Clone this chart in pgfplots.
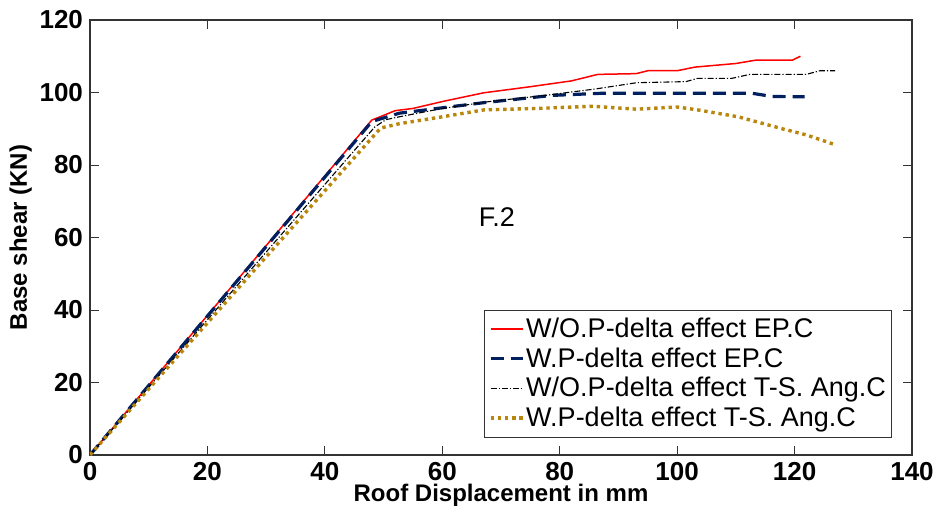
\documentclass[border=0pt]{standalone}
\usepackage{pgfplots}
\pgfplotsset{compat=1.18}
\usepackage{fontspec}
\setmainfont{Liberation Sans}
\definecolor{navy}{RGB}{0,32,96}
\definecolor{gold}{RGB}{184,134,11}
\begin{document}
\begin{tikzpicture}
\useasboundingbox (-45pt,-30pt) rectangle (423.5pt,227.5pt);
\begin{axis}[
  at={(0,0)}, anchor=origin,
  width=411pt, height=217.5pt, scale only axis,
  xmin=0, xmax=140, ymin=0, ymax=120,
  xtick={0,20,...,140}, ytick={0,20,...,120},
  tick align=inside, major tick length=4.5pt,
  axis line style={black!80, line width=0.6pt},
  every tick/.style={black!80, line width=0.5pt},
  /pgf/number format/assume math mode=true,
  ticklabel style={font=\bfseries\fontsize{13}{13}\selectfont},
  xlabel={Roof Displacement in mm},
  ylabel={Base shear (KN)},
  label style={font=\bfseries\fontsize{12}{12}\selectfont},
  xlabel style={yshift=5pt},
  ylabel style={yshift=-3pt},
  legend style={at={(0.976,0.04)}, anchor=south east, draw=black!80,
    font=\fontsize{13.5}{16}\selectfont, row sep=-0.5pt,
    inner xsep=2pt, inner ysep=2pt,
    nodes={inner xsep=1pt}},
  legend cell align=left,
  legend image code/.code={\draw[#1] (0pt,0pt) -- (16pt,0pt);},
]
\addplot[red, line width=0.75pt] coordinates {
(0,0) (48,92.4) (52,95.0) (55,95.6) (60,97.5) (67,99.9) (75,101.6) (82,103.2) (86.5,105.0) (93,105.2) (95,106) (100,106) (103,107) (110,108) (113.3,108.9) (119.6,108.9) (121,110)};
\addlegendentry{W/O.P-delta effect EP.C}
\addplot[navy, line width=1.6pt, dash pattern=on 6.5pt off 3.5pt] coordinates {
(0,0) (48,92) (52.7,94.3) (59.6,95.7) (67.1,97.2) (78.7,99.2) (87.3,99.8) (112.7,99.8) (116.2,98.9) (121.7,98.8)};
\addlegendentry{W.P-delta effect EP.C}
\addplot[black, line width=0.55pt, dash pattern=on 3pt off 1pt on 0.6pt off 1pt] coordinates {
(0,0) (48.5,90.5) (50.4,92.5) (52.7,93.3) (60,95.6) (68,97.5) (77.5,99.2) (86.2,101) (93.1,102.7) (101.5,103) (103.5,103.9) (109.3,103.9) (112.4,105) (122,105) (124.3,106) (126.9,106)};
\addlegendentry{W/O.P-delta effect T-S. Ang.C}
\addplot[gold, line width=1.7pt, dash pattern=on 1.7pt off 1.9pt] coordinates {
(0,0) (49.5,90.2) (52.7,91.4) (60,93.3) (67.1,95.2) (76,95.6) (85.6,96.2) (93.1,95.4) (100,96.0) (103.5,95.2) (110.4,93.3) (117.9,90) (122,88.3) (126.9,85.6)};
\addlegendentry{W.P-delta effect T-S. Ang.C}
\node[font=\fontsize{13.5}{13.5}\selectfont] at (axis cs:69.3,65.5) {F.2};
\end{axis}
\end{tikzpicture}
\end{document}
